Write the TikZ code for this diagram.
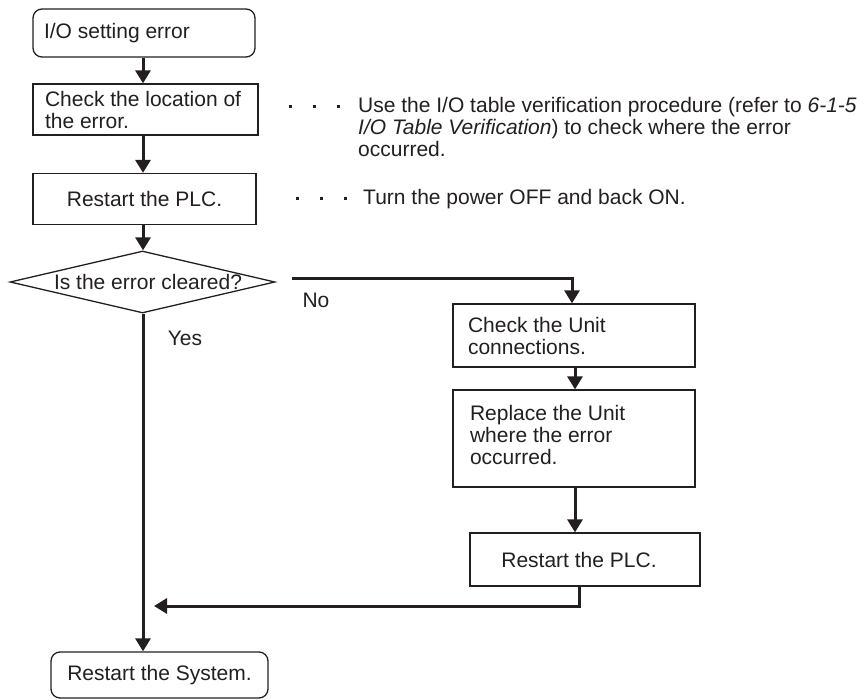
\documentclass[tikz,border=0pt]{standalone}
\usepackage{fontspec}
\setmainfont{Liberation Sans}
\usetikzlibrary{arrows.meta,shapes.geometric}
\begin{document}
\begin{tikzpicture}[x=1pt,y=-1pt,
  every node/.style={font=\fontsize{21}{22}\selectfont, text=ink},
  box/.style={draw=ink, line width=1.3pt, inner sep=0pt, minimum width=#1},
  rbox/.style={box=#1, rounded corners=9pt},
  lefttext/.style={align=left, text width=#1},
  dia/.style={draw=ink, line width=1.3pt, diamond, inner sep=0pt, minimum width=265pt, minimum height=62pt},
  conn/.style={draw=ink, line width=3pt, -{Triangle[length=13pt,width=15pt]}},
  plain/.style={draw=ink, line width=3pt},
  leader/.style={draw=ink, line width=3pt, dash pattern=on 3pt off 21pt},
  note/.style={align=left, inner sep=0pt, anchor=north west},
  lbl/.style={inner sep=0pt}
]
\definecolor{ink}{HTML}{231F20}
\useasboundingbox (0,0) rectangle (867,700);

% main column
\node[rbox=222pt, minimum height=48pt] (b1) at (144,33) {\parbox{200pt}{I/O setting error}};
\node[box=225pt, minimum height=51pt] (b2) at (145.5,109.5) {\parbox{201pt}{Check the location of\\the error.}};
\node[box=223pt, minimum height=51pt] (b3) at (144.5,199) {Restart the PLC.};
\node[dia] (d) at (142.5,282) {\makebox[0pt]{\hspace*{11pt}Is the error cleared?}};
\node[rbox=217pt, minimum height=46pt] (sys) at (159.5,675) {Restart the System.};

% right branch
\node[box=242pt, minimum height=63pt] (u1) at (574,335.5) {\parbox{212pt}{Check the Unit\\connections.}};
\node[box=242pt, minimum height=97pt] (u2) at (574,438.5) {\parbox{208pt}{Replace the Unit\\where the error\\occurred.\vspace{8pt}}};
\node[box=230pt, minimum height=53pt] (p2) at (585,559.5) {\hspace*{-12pt}Restart the PLC.};

% labels
\node[lbl] (no) at (316,300) {No};
\node[lbl] (yes) at (185,338) {Yes};

% notes
\node[note] (n1) at (358,97) {Use the I/O table verification procedure (refer to \textit{6-1-5}\\\textit{I/O Table Verification}) to check where the error\\occurred.};
\node[note] (n2) at (363,189) {Turn the power OFF and back ON.};

% leaders
\coordinate (l1a) at (288.5,107);
\coordinate (l1b) at (345,107);
\coordinate (l2a) at (295.5,199);
\coordinate (l2b) at (352,199);
\draw[leader] (l1a) -- (l1b);
\draw[leader] (l2a) -- (l2b);

% trunk
\coordinate (tx) at (143,0);
\draw[conn] (b1.south -| tx) -- (b2.north -| tx);
\draw[conn] (b2.south -| tx) -- (b3.north -| tx);
\draw[conn] (b3.south -| tx) -- (d.north -| tx);
\draw[conn] (d.south -| tx) -- (sys.north -| tx);

% No branch
\coordinate (nos) at (292,279);
\coordinate (ux) at (572,0);
\draw[conn] (nos) -- (nos -| ux) -- (u1.north -| ux);
\coordinate (ux2) at (575,0);
\draw[conn] (u1.south -| ux2) -- (u2.north -| ux2);
\draw[conn] (u2.south -| ux2) -- (p2.north -| ux2);

% return
\coordinate (px) at (579,0);
\coordinate (ry) at (0,606);
\coordinate (rend) at (154,606);
\draw[conn] (p2.south -| px) -- (px |- ry) -- (rend);
\end{tikzpicture}
\end{document}
